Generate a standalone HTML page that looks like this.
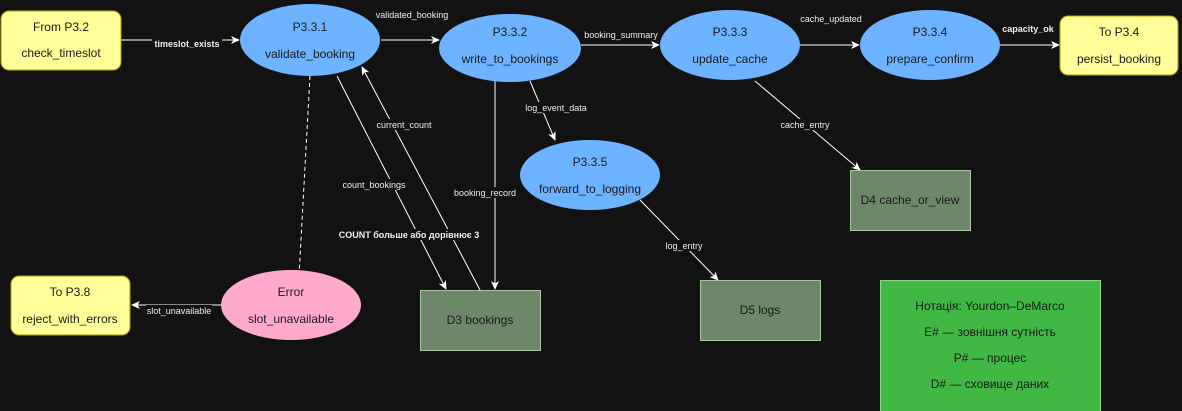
<!DOCTYPE html>
<html><head><meta charset="utf-8"><style>
html,body{margin:0;padding:0;background:#121212;}
svg{display:block;}
text{font-family:"Liberation Sans","DejaVu Sans",sans-serif;}
.n{font-size:12px;fill:#1a1a1a;text-anchor:middle;}
.l{font-size:9px;fill:#eeeeee;text-anchor:middle;}
.b{font-size:9px;fill:#eeeeee;text-anchor:middle;font-weight:bold;}
.e{stroke:#ffffff;stroke-width:1;fill:none;}
.lb{fill:#121212;}
</style></head><body>
<svg width="1182" height="411" viewBox="0 0 1182 411" xmlns="http://www.w3.org/2000/svg">
<defs><marker id="a" markerWidth="10" markerHeight="10" refX="8" refY="5" orient="auto" markerUnits="userSpaceOnUse"><path d="M0,1 L9,5 L0,9 L2.5,5 Z" fill="#fff"/></marker></defs>
<rect width="1182" height="411" fill="#121212"/>
<!-- edges -->
<line class="e" x1="121" y1="40" x2="239" y2="40" marker-end="url(#a)"/>
<line class="e" x1="381" y1="40" x2="439" y2="40" marker-end="url(#a)"/>
<line class="e" x1="581" y1="45" x2="659" y2="45" marker-end="url(#a)"/>
<line class="e" x1="800" y1="45" x2="859" y2="45" marker-end="url(#a)"/>
<line class="e" x1="1000" y1="45" x2="1059" y2="45" marker-end="url(#a)"/>
<line class="e" x1="530" y1="81" x2="555" y2="140" marker-end="url(#a)"/>
<line class="e" x1="755" y1="81" x2="860" y2="170" marker-end="url(#a)"/>
<line class="e" x1="640" y1="200" x2="718" y2="280" marker-end="url(#a)"/>
<line class="e" x1="337" y1="76" x2="446" y2="289" marker-end="url(#a)"/>
<line class="e" x1="480" y1="290" x2="362" y2="67" marker-end="url(#a)"/>
<line class="e" x1="495" y1="81" x2="495" y2="289" marker-end="url(#a)"/>
<line class="e" x1="310" y1="76" x2="299" y2="276" stroke-dasharray="4,3"/>
<line class="e" x1="221" y1="305" x2="132" y2="305" marker-end="url(#a)"/>
<!-- nodes -->
<rect x="1" y="11" width="120" height="59" rx="8" fill="#ffff99" stroke="#b8a000"/>
<text class="n" x="61" y="31">From P3.2</text><text class="n" x="61" y="57">check_timeslot</text>
<rect x="1060" y="16" width="118" height="59" rx="8" fill="#ffff99" stroke="#b8a000"/>
<text class="n" x="1119" y="36">To P3.4</text><text class="n" x="1119" y="63">persist_booking</text>
<rect x="11" y="276" width="119" height="59" rx="8" fill="#ffff99" stroke="#b8a000"/>
<text class="n" x="70" y="296">To P3.8</text><text class="n" x="70" y="323">reject_with_errors</text>
<ellipse cx="310" cy="40" rx="70" ry="36" fill="#6eb3ff"/>
<text class="n" x="310" y="31">P3.3.1</text><text class="n" x="310" y="58">validate_booking</text>
<ellipse cx="510" cy="48" rx="71" ry="34" fill="#6eb3ff"/>
<text class="n" x="510" y="36">P3.3.2</text><text class="n" x="510" y="63">write_to_bookings</text>
<ellipse cx="730" cy="45" rx="70" ry="35" fill="#6eb3ff"/>
<text class="n" x="730" y="36">P3.3.3</text><text class="n" x="730" y="63">update_cache</text>
<ellipse cx="930" cy="45" rx="70" ry="35" fill="#6eb3ff"/>
<text class="n" x="930" y="36">P3.3.4</text><text class="n" x="930" y="63">prepare_confirm</text>
<ellipse cx="590" cy="175" rx="70" ry="35" fill="#6eb3ff"/>
<text class="n" x="590" y="166">P3.3.5</text><text class="n" x="590" y="193">forward_to_logging</text>
<ellipse cx="291" cy="305" rx="70" ry="35" fill="#ffaacc"/>
<text class="n" x="291" y="296">Error</text><text class="n" x="291" y="323">slot_unavailable</text>
<rect x="420.5" y="290.5" width="120" height="60" fill="#6d8769" stroke="#a8c4a0"/>
<text class="n" x="480" y="324">D3 bookings</text>
<rect x="850.5" y="170.5" width="120" height="60" fill="#6d8769" stroke="#a8c4a0"/>
<text class="n" x="910" y="204">D4 cache_or_view</text>
<rect x="700.5" y="280.5" width="120" height="60" fill="#6d8769" stroke="#a8c4a0"/>
<text class="n" x="760" y="314">D5 logs</text>
<rect x="880.5" y="280.5" width="220" height="132" fill="#40b843" stroke="#8ad88a"/>
<text class="n" x="990" y="310">Нотація: Yourdon–DeMarco</text>
<text class="n" x="990" y="336">E# — зовнішня сутність</text>
<text class="n" x="990" y="362">P# — процес</text>
<text class="n" x="990" y="388">D# — сховище даних</text>
<!-- labels -->
<rect class="lb" x="152" y="38" width="70" height="11"/><text class="b" x="187" y="47">timeslot_exists</text>
<text class="l" x="412" y="18">validated_booking</text>
<rect class="lb" x="581" y="29" width="80" height="11"/><text class="l" x="621" y="38">booking_summary</text>
<text class="l" x="831" y="22">cache_updated</text>
<text class="b" x="1028" y="32">capacity_ok</text>
<rect class="lb" x="525" y="102" width="62" height="11"/><text class="l" x="556" y="111">log_event_data</text>
<rect class="lb" x="780" y="119" width="50" height="11"/><text class="l" x="805" y="128">cache_entry</text>
<rect class="lb" x="664" y="240" width="40" height="11"/><text class="l" x="684" y="249">log_entry</text>
<rect class="lb" x="342" y="179" width="64" height="11"/><text class="l" x="374" y="188">count_bookings</text>
<rect class="lb" x="376" y="119" width="57" height="11"/><text class="l" x="404" y="128">current_count</text>
<rect class="lb" x="453" y="187" width="64" height="11"/><text class="l" x="485" y="196">booking_record</text>
<rect class="lb" x="331" y="229" width="156" height="11"/><text class="b" x="409" y="238">COUNT больше або дорівнює 3</text>
<rect class="lb" x="146" y="305" width="66" height="11"/><text class="l" x="179" y="314">slot_unavailable</text>
</svg>
</body></html>
